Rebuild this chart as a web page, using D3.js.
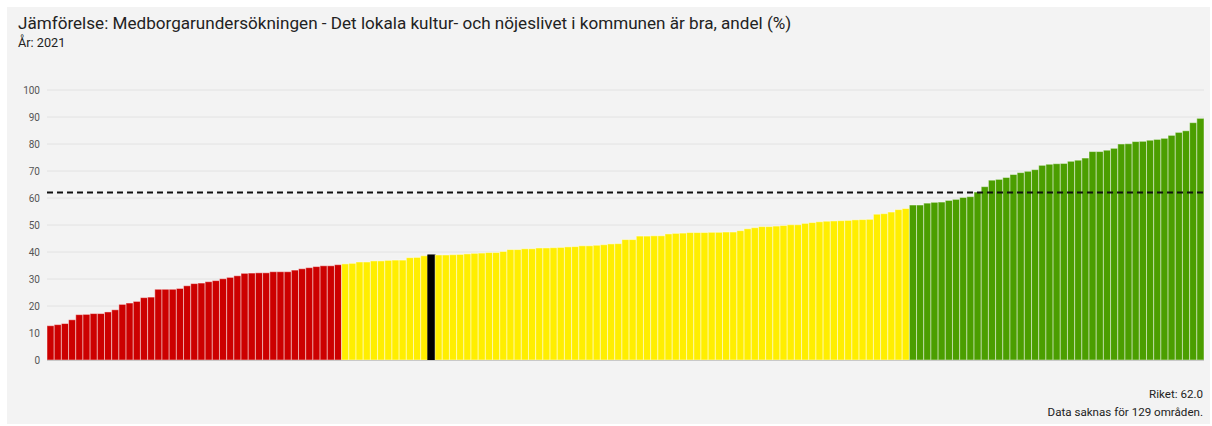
<!DOCTYPE html>
<html>
<head>
<meta charset="utf-8">
<script src="https://cdn.jsdelivr.net/npm/d3@7"></script>
<style>
  html, body { margin: 0; padding: 0; background: #ffffff; }
  svg { display: block; font-family: Roboto, "Noto Sans", sans-serif; }
</style>
</head>
<body>
<svg id="chart" width="1212" height="426"></svg>
<script>
// Share (%) per municipality, sorted ascending
const redValues = [12.7, 13.1, 13.5, 14.9, 16.8, 16.9, 17.2, 17.2, 17.8, 18.6,
  20.6, 21.1, 21.7, 23.1, 23.3, 26.2, 26.2, 26.2, 26.5, 27.5,
  28.3, 28.5, 29.0, 29.4, 30.1, 30.6, 31.2, 32.1, 32.2, 32.3,
  32.3, 32.7, 32.7, 32.7, 33.3, 33.8, 34.2, 34.6, 34.9, 34.9, 35.3];
const yellowValuesLow = [35.6, 35.8, 36.3, 36.3, 36.7, 36.7, 36.9, 37.0, 37.0, 37.9, 38.0, 38.6];
const selectedValue = [38.9];
const yellowValuesHigh = [38.9, 38.9, 39.0, 39.1, 39.3, 39.5, 39.6, 39.8, 39.8, 40.2,
  40.9, 40.9, 41.2, 41.2, 41.5, 41.5, 41.6, 41.7, 41.9, 42.0,
  42.3, 42.3, 42.5, 42.7, 43.0, 43.1, 44.6, 44.6, 45.9, 45.9,
  46.0, 46.0, 46.7, 46.9, 47.0, 47.2, 47.2, 47.2, 47.3, 47.3,
  47.4, 47.4, 47.9, 48.6, 49.0, 49.4, 49.4, 49.6, 49.8, 50.1,
  50.1, 50.6, 50.9, 51.2, 51.4, 51.5, 51.6, 51.7, 51.9, 52.0,
  52.1, 54.0, 54.2, 54.8, 55.7, 56.1];
const greenValues = [57.4, 57.4, 58.1, 58.4, 58.5, 59.1, 59.5, 60.2, 60.5, 62.2,
  64.2, 66.6, 66.9, 67.6, 68.7, 69.4, 69.9, 70.5, 72.1, 72.5,
  72.7, 72.8, 73.6, 74.0, 74.8, 77.2, 77.2, 77.7, 78.4, 80.0,
  80.1, 80.9, 81.0, 81.4, 81.7, 82.1, 83.2, 84.3, 84.9, 87.9, 89.5];
const nationalAverage = 62.0;
const missingCount = 129;
const yTicks = [0, 10, 20, 30, 40, 50, 60, 70, 80, 90, 100];
const titleText = "Jämförelse: Medborgarundersökningen - Det lokala kultur- och nöjeslivet i kommunen är bra, andel (%)";
const subtitleText = "År: 2021";

const colors = { red: "#cc0000", yellow: "#ffee00", selected: "#000000", green: "#4b9e00" };

const bars = [];
redValues.forEach(v => bars.push({ value: v, group: "red" }));
yellowValuesLow.forEach(v => bars.push({ value: v, group: "yellow" }));
selectedValue.forEach(v => bars.push({ value: v, group: "selected" }));
yellowValuesHigh.forEach(v => bars.push({ value: v, group: "yellow" }));
greenValues.forEach(v => bars.push({ value: v, group: "green" }));
bars.forEach((d, i) => d.id = i);

const svg = d3.select("#chart");
const W = 1212, H = 426;

// panel background
svg.append("rect").attr("x", 7).attr("y", 7).attr("width", W - 9).attr("height", H - 9)
  .attr("fill", "#f3f3f3");

svg.append("text").attr("x", 18).attr("y", 29)
  .attr("font-size", 17.1).attr("fill", "#222").text(titleText);
svg.append("text").attr("x", 18).attr("y", 47)
  .attr("font-size", 12.7).attr("fill", "#222").text(subtitleText);

const plot = { left: 47, right: 1204, top: 90, bottom: 360 };

const x = d3.scaleBand().domain(bars.map(d => d.id))
  .range([plot.left, plot.right]).paddingInner(0).paddingOuter(0);
const y = d3.scaleLinear().domain([0, 100]).range([plot.bottom, plot.top]);

// grid lines
svg.append("g").selectAll("line").data(yTicks.filter(t => t > 0)).join("line")
  .attr("x1", plot.left).attr("x2", plot.right)
  .attr("y1", d => y(d)).attr("y2", d => y(d))
  .attr("stroke", "#e2e2e2").attr("stroke-width", 1);

// y axis labels
const yAxis = d3.axisLeft(y).tickValues(yTicks).tickSize(0).tickPadding(6);
const gy = svg.append("g").attr("transform", `translate(${plot.left - 1},0)`).call(yAxis);
gy.select(".domain").remove();
gy.selectAll("text").attr("font-size", 10).attr("fill", "#555")
  .attr("font-family", "Roboto, 'Noto Sans', sans-serif");

// bars
svg.append("g").selectAll("rect").data(bars).join("rect")
  .attr("x", d => x(d.id))
  .attr("width", x.bandwidth())
  .attr("y", d => y(d.value))
  .attr("height", d => y(0) - y(d.value))
  .attr("fill", d => colors[d.group])
  .attr("stroke", d => d.group === "selected" ? "#000" : "rgba(255,255,255,0.45)")
  .attr("stroke-width", 1);

// baseline
svg.append("line").attr("x1", plot.left).attr("x2", plot.right)
  .attr("y1", y(0) + 0.5).attr("y2", y(0) + 0.5)
  .attr("stroke", "#c8c8c8").attr("stroke-width", 1);

// national average
svg.append("line").attr("x1", plot.left).attr("x2", plot.right)
  .attr("y1", y(nationalAverage)).attr("y2", y(nationalAverage))
  .attr("stroke", "#111").attr("stroke-width", 2).attr("stroke-dasharray", "6,4");

svg.append("text").attr("x", 1203).attr("y", 398).attr("text-anchor", "end")
  .attr("font-size", 11.6).attr("fill", "#222").text(`Riket: ${nationalAverage.toFixed(1)}`);
svg.append("text").attr("x", 1203).attr("y", 416).attr("text-anchor", "end")
  .attr("font-size", 11.6).attr("fill", "#222").text(`Data saknas för ${missingCount} områden.`);
</script>
</body>
</html>
